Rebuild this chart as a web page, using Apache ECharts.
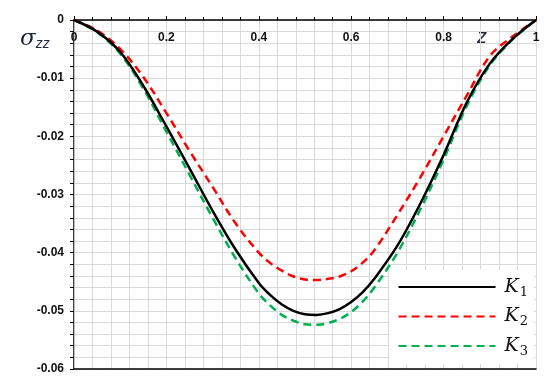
<!DOCTYPE html>
<html><head><meta charset="utf-8">
<script src="https://cdn.jsdelivr.net/npm/echarts@6/dist/echarts.min.js"></script>
<style>html,body{margin:0;padding:0;background:#fff}#c{width:550px;height:388px}</style>
</head><body><div id="c"></div>
<script>
const zValues = [0,0.05,0.10,0.15,0.20,0.25,0.30,0.35,0.40,0.425,0.45,0.475,0.50,0.525,0.55,0.575,0.60,0.625,0.65,0.70,0.75,0.80,0.85,0.90,0.95,1.0];
const k1 = [0,-0.0020,-0.0055,-0.0113,-0.0183,-0.0255,-0.0328,-0.0395,-0.0452,-0.0473,-0.0489,-0.0500,-0.0506,-0.0507,-0.0504,-0.0497,-0.0485,-0.0468,-0.0445,-0.0388,-0.0315,-0.0232,-0.0142,-0.0075,-0.0032,0];
const k2 = [0,-0.0018,-0.0050,-0.0098,-0.0160,-0.0225,-0.0287,-0.0350,-0.0400,-0.0418,-0.0431,-0.0441,-0.0446,-0.0447,-0.0445,-0.0441,-0.0432,-0.0417,-0.0396,-0.0335,-0.0270,-0.0200,-0.0130,-0.0062,-0.0028,0];
const k3 = [0,-0.0021,-0.0058,-0.0118,-0.0192,-0.0266,-0.0340,-0.0410,-0.0470,-0.0491,-0.0507,-0.0517,-0.0523,-0.0524,-0.0521,-0.0514,-0.0502,-0.0484,-0.0460,-0.0400,-0.0325,-0.0240,-0.0148,-0.0078,-0.0033,0];
const seriesNames = ['K1','K2','K3'];
const xTicks = {min:0, max:1, interval:0.2};
const yTicks = {min:-0.06, max:0, interval:0.01};

const pair = (ys) => zValues.map((z,i)=>[z, ys[i]]);
const chart = echarts.init(document.getElementById('c'), null, {renderer:'canvas'});
const gridColor = '#d9d9d9';
const labelFont = {fontFamily:'Liberation Sans', fontSize:12, fontWeight:'bold', color:'#111'};
chart.setOption({
  animation:false,
  grid:{left:74, right:14, top:20, bottom:19},
  xAxis:[{
    type:'value', position:'top', min:xTicks.min, max:xTicks.max, interval:xTicks.interval,
    axisLine:{show:true, onZero:false, lineStyle:{color:'#000', width:1.5}},
    axisTick:{show:true, inside:false, length:4, lineStyle:{color:'#000'}},
    minorTick:{show:true, splitNumber:5, length:3, lineStyle:{color:'#000'}},
    splitLine:{show:true, lineStyle:{color:gridColor}},
    minorSplitLine:{show:true, lineStyle:{color:gridColor}},
    axisLabel:Object.assign({inside:true, margin:12, formatter:v=>v===0?'0':(v===1?'1':String(+v.toFixed(1)))}, labelFont)
  },{
    type:'value', position:'bottom', min:0, max:1,
    axisLine:{show:true, onZero:false, lineStyle:{color:'#000', width:1.5}},
    axisTick:{show:false}, axisLabel:{show:false}, splitLine:{show:false}
  }],
  yAxis:[{
    type:'value', min:yTicks.min, max:yTicks.max, interval:yTicks.interval,
    axisLine:{show:true, onZero:false, lineStyle:{color:'#000', width:1.5}},
    axisTick:{show:true, length:4, lineStyle:{color:'#000'}},
    minorTick:{show:true, splitNumber:5, length:4, lineStyle:{color:'#000'}},
    splitLine:{show:true, lineStyle:{color:gridColor}},
    minorSplitLine:{show:true, lineStyle:{color:gridColor}},
    axisLabel:Object.assign({margin:10, formatter:v=>Math.abs(v)<1e-9?'0':v.toFixed(2)}, labelFont)
  },{
    type:'value', position:'right', min:yTicks.min, max:yTicks.max,
    axisLine:{show:true, lineStyle:{color:'#bfbfbf', width:1}},
    axisTick:{show:false}, axisLabel:{show:false}, splitLine:{show:false}
  }],
  legend:{
    orient:'vertical', right:16, bottom:24, backgroundColor:'#fff',
    padding:[8,6,6,8], itemWidth:97, itemHeight:14, itemGap:8,
    itemStyle:{opacity:0},
    data:seriesNames,
    formatter:n=>'{k|K}{s|'+n.slice(1)+'}',
    textStyle:{rich:{
      k:{fontFamily:'DejaVu Serif', fontStyle:'italic', fontSize:19, color:'#111', padding:[0,0,0,4]},
      s:{fontFamily:'DejaVu Serif', fontSize:13, color:'#111', verticalAlign:'bottom', padding:[11,0,0,1]}
    }}
  },
  graphic:[
    {type:'text', left:20, top:28, style:{rich:{
      a:{fontFamily:'DejaVu Serif', fontStyle:'italic', fontSize:23, fill:'#1b2440'},
      b:{fontFamily:'Liberation Sans', fontStyle:'italic', fontSize:14, fill:'#1b2440', padding:[10,0,0,0]}
    }, text:'{a|σ}{b|zz}'}},
    {type:'text', left:477, top:27, style:{text:'z', font:'italic 20px "Liberation Sans"', fill:'#1b2440'}}
  ],
  series:[
    {name:'K1', type:'line', data:pair(k1), smooth:0.35, showSymbol:false, symbol:'none',
      lineStyle:{color:'#000', width:2.5}, itemStyle:{color:'#000'}, z:4},
    {name:'K2', type:'line', data:pair(k2), smooth:0.35, showSymbol:false, symbol:'none',
      lineStyle:{color:'#ff0000', width:2.5, type:[8,5]}, itemStyle:{color:'#ff0000'}, z:3},
    {name:'K3', type:'line', data:pair(k3), smooth:0.35, showSymbol:false, symbol:'none',
      lineStyle:{color:'#00b050', width:2.5, type:[8,5]}, itemStyle:{color:'#00b050'}, z:2}
  ]
});
</script></body></html>
